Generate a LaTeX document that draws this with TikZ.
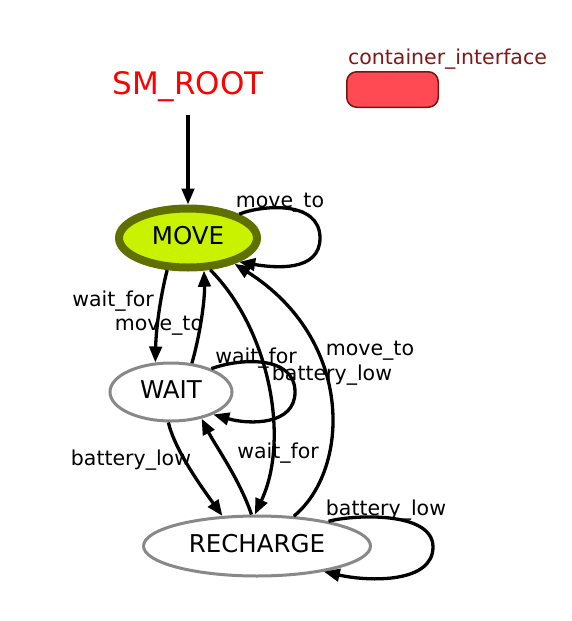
\documentclass[tikz,border=0pt]{standalone}
\usepackage{fontspec}
\setmainfont{DejaVu Sans}
\usetikzlibrary{shapes.geometric,arrows.meta}
\definecolor{movefill}{RGB}{200,242,0}
\definecolor{moveline}{RGB}{95,112,0}
\definecolor{stategray}{RGB}{136,136,136}
\definecolor{cifill}{RGB}{255,74,84}
\definecolor{ciline}{RGB}{120,20,20}
\definecolor{citext}{RGB}{128,24,24}
\tikzset{
 state/.style={ellipse, draw=stategray, line width=3pt, fill=white, inner sep=0pt, text height=17.8pt, text depth=5pt, font=\fontsize{24.5}{28}\selectfont},
 active/.style={state, draw=moveline, fill=movefill, line width=8pt},
 edge/.style={line width=3.3pt, -{Triangle[length=16pt,width=12.5pt]}},
 elabel/.style={anchor=base, inner sep=0pt, font=\fontsize{20.5}{24}\selectfont},
}
\begin{document}
\begin{tikzpicture}[x=1pt,y=-1pt]
\useasboundingbox (0,0) rectangle (572,621);
% root label
\node[anchor=base, inner sep=0pt, text=red, text depth=0pt, outer ysep=21pt, font=\fontsize{31}{36}\selectfont] (root) at (188,94) {SM\_ROOT};
% container interface
\node[elabel, text=citext] (cilabel) at (447.5,64) {container\_interface};
\node[draw=ciline, fill=cifill, line width=1.5pt, rounded corners=10pt, minimum width=91.5pt, minimum height=35.5pt, inner sep=0pt] (ci) at (392.5,89.5) {};
% states
\node[active, minimum width=138pt, minimum height=59pt] (MOVE) at (188,238) {MOVE};
\node[state, minimum width=122pt, minimum height=58pt] (WAIT) at (171,392) {WAIT};
\node[state, minimum width=227pt, minimum height=60pt] (RECHARGE) at (257,546) {RECHARGE};
% edges
\draw[edge] (root.south) -- (MOVE.north);
\draw[edge] (MOVE.25) .. controls (262,205) and (320,200) .. (320,238) .. controls (320,272) and (275,268) .. (MOVE.-25);
\draw[edge] (MOVE.237) .. controls (160,298) and (156,330) .. (WAIT.118);
\draw[edge] (WAIT.54) .. controls (200,335) and (205,300) .. (MOVE.296);
\draw[edge] (WAIT.30) .. controls (240,358) and (295,355) .. (295,392) .. controls (295,425) and (250,425) .. (WAIT.-28);
\draw[edge] (MOVE.305) .. controls (270,330) and (290,440) .. (RECHARGE.94);
\draw[edge] (RECHARGE.39) .. controls (350,470) and (355,340) .. (MOVE.-29);
\draw[edge] (WAIT.265) .. controls (175,450) and (200,485) .. (RECHARGE.139);
\draw[edge] (RECHARGE.100) .. controls (240,480) and (215,445) .. (WAIT.-41);
\draw[edge] (RECHARGE.19) .. controls (350,515) and (433,510) .. (433,547) .. controls (433,583) and (370,582) .. (RECHARGE.-21);
% edge labels
\node[elabel] (l1) at (280,207) {move\_to};
\node[elabel] (l2) at (113,306) {wait\_for};
\node[elabel] (l3) at (159,330) {move\_to};
\node[elabel] (l4) at (256,363) {wait\_for};
\node[elabel] (l5) at (332,380) {battery\_low};
\node[elabel] (l6) at (370,355) {move\_to};
\node[elabel] (l7) at (131,465) {battery\_low};
\node[elabel] (l8) at (278,458) {wait\_for};
\node[elabel] (l9) at (386,515) {battery\_low};
\end{tikzpicture}
\end{document}
